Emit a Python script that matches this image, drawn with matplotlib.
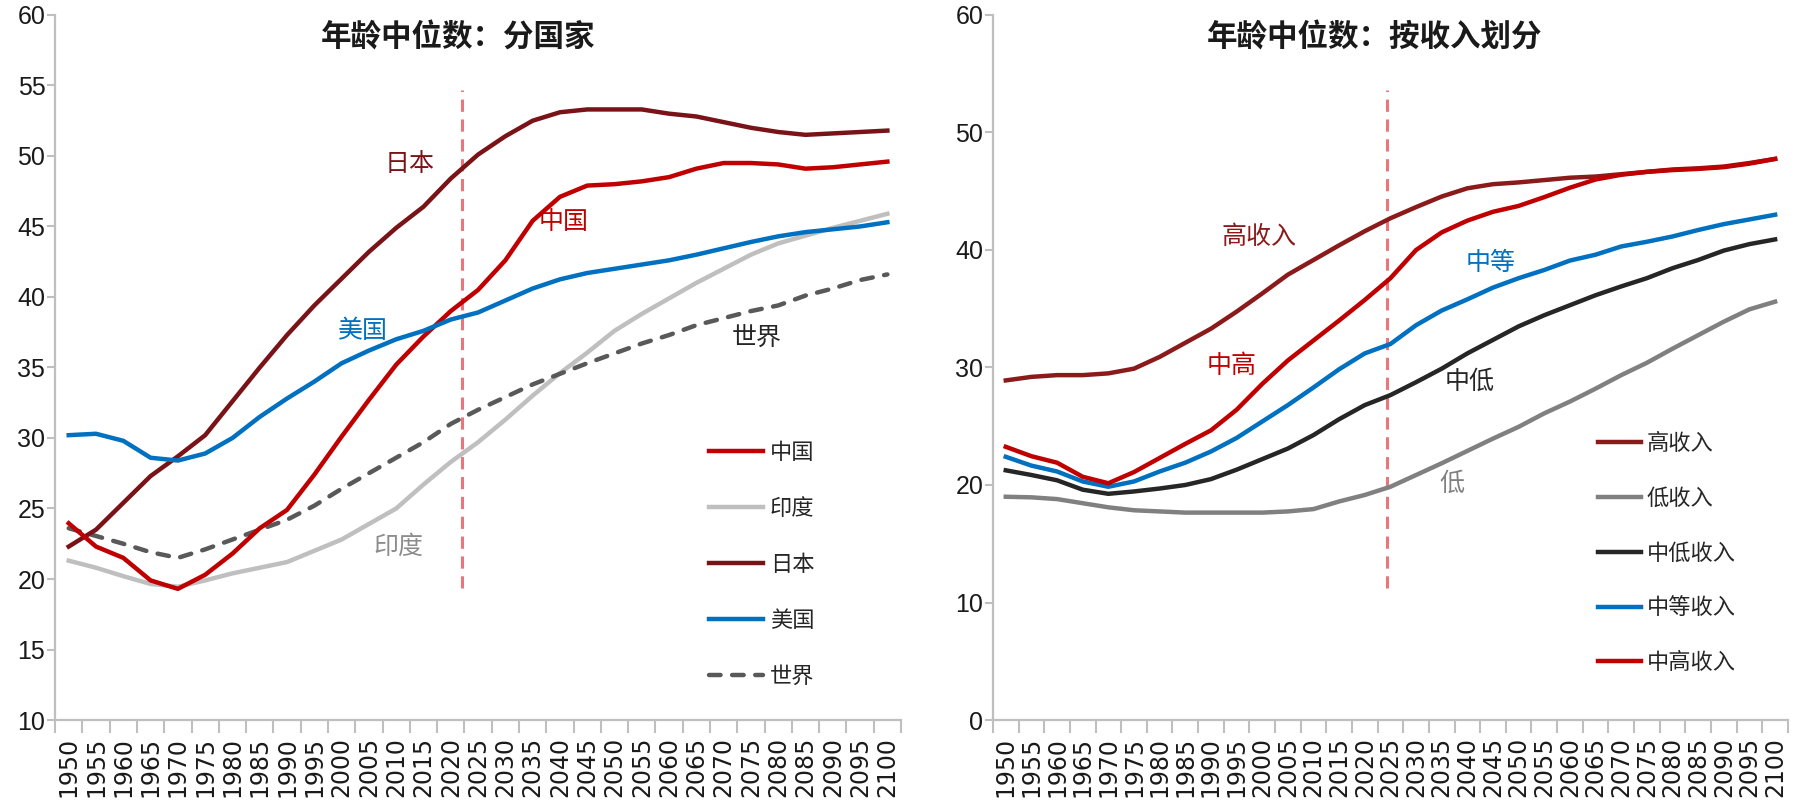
import numpy as np
import matplotlib
matplotlib.use("Agg")
import matplotlib.pyplot as plt

# --------------------------------------------------------------
# Data (median age)
# --------------------------------------------------------------
years = [1950, 1955, 1960, 1965, 1970, 1975, 1980, 1985, 1990, 1995,
         2000, 2005, 2010, 2015, 2020, 2025, 2030, 2035, 2040, 2045,
         2050, 2055, 2060, 2065, 2070, 2075, 2080, 2085, 2090, 2095, 2100]

china = [23.95, 22.3, 21.5, 19.9, 19.3, 20.3, 21.8, 23.6, 24.9, 27.4,
         30.1, 32.7, 35.2, 37.2, 39.0, 40.5, 42.6, 45.4, 47.1, 47.9,
         48.0, 48.2, 48.5, 49.1, 49.5, 49.5, 49.4, 49.1, 49.2, 49.4, 49.6]
india = [21.3, 20.8, 20.2, 19.65, 19.45, 19.9, 20.4, 20.8, 21.2, 22.0,
         22.8, 23.9, 25.0, 26.7, 28.3, 29.7, 31.3, 33.0, 34.6, 36.05,
         37.6, 38.8, 39.9, 41.0, 42.0, 43.0, 43.8, 44.35, 44.9, 45.4, 45.9]
japan = [22.3, 23.5, 25.4, 27.3, 28.7, 30.2, 32.6, 35.0, 37.3, 39.4,
         41.3, 43.2, 44.9, 46.4, 48.4, 50.1, 51.4, 52.5, 53.1, 53.3,
         53.3, 53.3, 53.0, 52.8, 52.4, 52.0, 51.7, 51.5, 51.6, 51.7, 51.8]
usa = [30.2, 30.3, 29.8, 28.6, 28.4, 28.9, 30.0, 31.5, 32.8, 34.0,
       35.3, 36.2, 37.0, 37.6, 38.4, 38.9, 39.75, 40.6, 41.25, 41.7,
       42.0, 42.3, 42.6, 43.0, 43.45, 43.9, 44.3, 44.6, 44.8, 45.0, 45.3]
world = [23.6, 23.05, 22.5, 21.9, 21.5, 22.1, 22.8, 23.5, 24.2, 25.2,
         26.4, 27.5, 28.6, 29.7, 31.0, 32.0, 32.9, 33.8, 34.55, 35.3,
         36.0, 36.7, 37.3, 38.0, 38.5, 39.0, 39.4, 40.1, 40.6, 41.2, 41.6]

high_inc = [28.9, 29.2, 29.35, 29.35, 29.5, 29.9, 30.9, 32.1, 33.3, 34.75,
            36.3, 37.9, 39.15, 40.4, 41.6, 42.7, 43.65, 44.55, 45.25, 45.6,
            45.75, 45.95, 46.15, 46.25, 46.45, 46.65, 46.85, 46.95, 47.1, 47.4, 47.75]
low_inc = [19.0, 18.95, 18.8, 18.45, 18.1, 17.85, 17.75, 17.65, 17.65, 17.65,
           17.65, 17.75, 17.95, 18.6, 19.15, 19.85, 20.85, 21.85, 22.9, 23.95,
           24.95, 26.1, 27.1, 28.2, 29.35, 30.4, 31.6, 32.75, 33.9, 34.95, 35.6]
lower_mid = [21.25, 20.85, 20.4, 19.6, 19.25, 19.45, 19.7, 20.0, 20.5, 21.3,
             22.2, 23.1, 24.25, 25.6, 26.8, 27.65, 28.75, 29.9, 31.2, 32.35,
             33.5, 34.45, 35.3, 36.15, 36.9, 37.6, 38.45, 39.15, 39.95, 40.5, 40.9]
middle = [22.4, 21.65, 21.15, 20.3, 19.85, 20.3, 21.15, 21.9, 22.85, 24.0,
          25.4, 26.8, 28.3, 29.85, 31.2, 32.0, 33.6, 34.85, 35.8, 36.8,
          37.6, 38.3, 39.1, 39.6, 40.3, 40.7, 41.15, 41.7, 42.2, 42.6, 43.0]
upper_mid = [23.25, 22.45, 21.9, 20.7, 20.15, 21.1, 22.3, 23.5, 24.65, 26.4,
             28.6, 30.6, 32.3, 34.0, 35.75, 37.6, 40.0, 41.5, 42.5, 43.25,
             43.75, 44.5, 45.3, 46.0, 46.4, 46.65, 46.8, 46.9, 47.05, 47.35, 47.75]

# --------------------------------------------------------------
# Style
# --------------------------------------------------------------
plt.rcParams['font.family'] = ['Noto Sans CJK SC', 'DejaVu Sans']
NUM_Y = ['Liberation Sans Narrow', 'Liberation Sans', 'DejaVu Sans']
NUM_X = ['DejaVu Sans']
GRID = '#BFBFBF'
VLINE = '#E8767C'

x = np.arange(len(years))

fig = plt.figure(figsize=(18.06, 8.09), dpi=100)
ax1 = fig.add_axes([0.0305, 0.110, 0.4684, 0.8715])
ax2 = fig.add_axes([0.5498, 0.110, 0.4402, 0.8715])


def style_axis(ax, ymin, ymax, ystep):
    for s in ['top', 'right']:
        ax.spines[s].set_visible(False)
    for s in ['left', 'bottom']:
        ax.spines[s].set_color(GRID)
        ax.spines[s].set_linewidth(1.6)
    ax.set_xlim(-0.5, len(years) - 0.5)
    ax.set_ylim(ymin, ymax)
    ax.set_yticks(np.arange(ymin, ymax + 1, ystep))
    for lab in ax.get_yticklabels():
        lab.set_family(NUM_Y)
    ax.tick_params(axis='y', length=6, width=1.5, color=GRID, labelsize=18,
                   pad=1, labelcolor='#1a1a1a')
    # category axis: ticks between categories, labels at centers
    ax.set_xticks(np.arange(-0.5, len(years), 1))
    ax.set_xticks(x, labels=[str(y) for y in years], minor=True)
    ax.tick_params(axis='x', which='major', length=9, width=1.5, color=GRID,
                   labelbottom=False)
    ax.tick_params(axis='x', which='minor', length=0, pad=12, labelsize=17,
                   labelrotation=90, labelcolor='#1a1a1a')
    for lab in ax.get_xticklabels(minor=True):
        lab.set_family(NUM_X)


style_axis(ax1, 10, 60, 5)
style_axis(ax2, 0, 60, 10)

lw = 3.2

# --------------------------------------------------------------
# Left: by country
# --------------------------------------------------------------
ax1.plot(x, india, color='#BFBFBF', lw=lw, label='印度', zorder=3)
ax1.plot(x, world, color='#595959', lw=lw, ls=(0, (2.6, 2.6)),
         dash_capstyle='round', label='世界', zorder=3)
ax1.plot(x, japan, color='#7A1317', lw=lw, label='日本', zorder=4)
ax1.plot(x, china, color='#C00000', lw=lw, label='中国', zorder=4)
ax1.plot(x, usa, color='#0070C0', lw=lw, label='美国', zorder=5)
ax1.plot([14.42, 14.42], [19.35, 54.7], color=VLINE, lw=2.2,
         ls=(0, (4, 2.5)), zorder=2)

h, l = ax1.get_legend_handles_labels()
order = ['中国', '印度', '日本', '美国', '世界']
hl = {lab: han for han, lab in zip(h, l)}
ax1.legend([hl[o] for o in order], order, loc='upper left',
           bbox_to_anchor=(709 / 1806, 1 - 441 / 809),
           bbox_transform=fig.transFigure, frameon=False, fontsize=16,
           handlelength=2.43, handletextpad=0.3, labelspacing=1.48,
           borderpad=0, borderaxespad=0, labelcolor='#262626')

ax1.text(12.5, 49.4, '日本', color='#7A1317', fontsize=18, ha='center', va='center')
ax1.text(18.15, 45.3, '中国', color='#C00000', fontsize=18, ha='center', va='center')
ax1.text(10.8, 37.6, '美国', color='#0070C0', fontsize=18, ha='center', va='center')
ax1.text(25.2, 37.1, '世界', color='#262626', fontsize=18, ha='center', va='center')
ax1.text(12.1, 22.3, '印度', color='#8C8C8C', fontsize=18, ha='center', va='center')

fig.text(458 / 1806, 1 - 38 / 809, '年龄中位数：分国家', fontsize=22,
         fontweight='bold', ha='center', va='center', color='#1a1a1a')

# --------------------------------------------------------------
# Right: by income group
# --------------------------------------------------------------
ax2.plot(x, low_inc, color='#808080', lw=lw, label='低收入', zorder=3)
ax2.plot(x, lower_mid, color='#262626', lw=lw, label='中低收入', zorder=3)
ax2.plot(x, middle, color='#0070C0', lw=lw, label='中等收入', zorder=4)
ax2.plot(x, high_inc, color='#8B1A1A', lw=lw, label='高收入', zorder=4)
ax2.plot(x, upper_mid, color='#C00000', lw=lw, label='中高收入', zorder=5)
ax2.plot([14.88, 14.88], [11.2, 53.6], color=VLINE, lw=2.2,
         ls=(0, (4, 2.5)), zorder=2)

h, l = ax2.get_legend_handles_labels()
order = ['高收入', '低收入', '中低收入', '中等收入', '中高收入']
hl = {lab: han for han, lab in zip(h, l)}
ax2.legend([hl[o] for o in order], order, loc='upper left',
           bbox_to_anchor=(1598 / 1806, 1 - 432 / 809),
           bbox_transform=fig.transFigure, frameon=False, fontsize=16,
           handlelength=1.92, handletextpad=0.28, labelspacing=1.43,
           borderpad=0, borderaxespad=0, labelcolor='#262626')

ax2.text(9.87, 41.1, '高收入', color='#8B1A1A', fontsize=18, ha='center', va='center')
ax2.text(8.8, 30.1, '中高', color='#C00000', fontsize=18, ha='center', va='center')
ax2.text(18.9, 38.9, '中等', color='#0070C0', fontsize=18, ha='center', va='center')
ax2.text(18.1, 28.8, '中低', color='#262626', fontsize=18, ha='center', va='center')
ax2.text(17.4, 20.1, '低', color='#808080', fontsize=18, ha='center', va='center')

fig.text(1375 / 1806, 1 - 38 / 809, '年龄中位数：按收入划分', fontsize=22,
         fontweight='bold', ha='center', va='center', color='#1a1a1a')

fig.savefig('out.png', dpi=100)
